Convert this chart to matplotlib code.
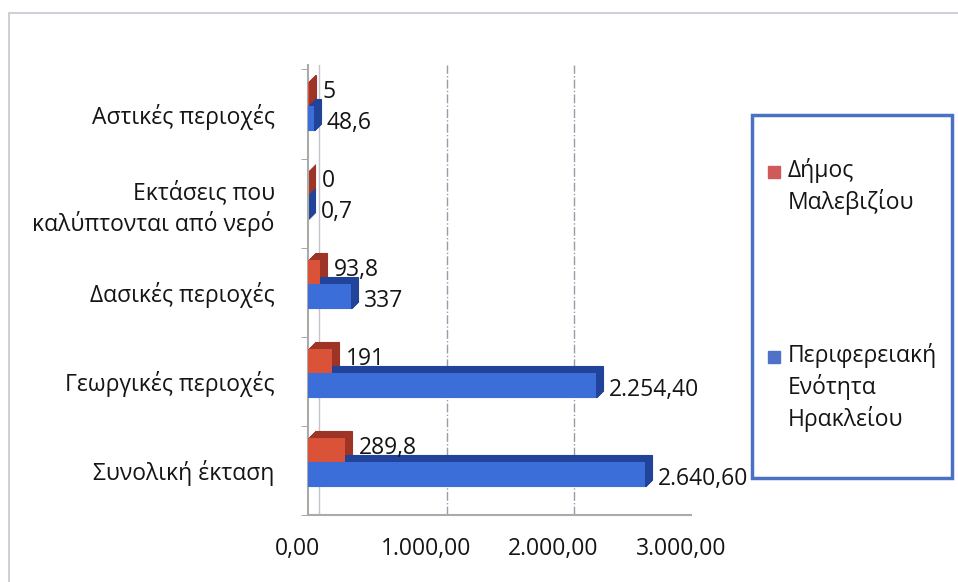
import numpy as np
import matplotlib
matplotlib.use('Agg')
import matplotlib.pyplot as plt
from matplotlib.transforms import ScaledTranslation
from matplotlib.patches import Rectangle

# Κατηγορίες (από κάτω προς τα πάνω)
categories = ['Συνολική έκταση', 'Γεωργικές περιοχές', 'Δασικές περιοχές',
              'Εκτάσεις που\nκαλύπτονται από νερό', 'Αστικές περιοχές']
malevizi = [289.8, 191, 93.8, 0, 5]
heraklion = [2640.6, 2254.4, 337, 0.7, 48.6]
malevizi_labels = ['289,8', '191', '93,8', '0', '5']
heraklion_labels = ['2.640,60', '2.254,40', '337', '0,7', '48,6']
series_names = ['Δήμος\nΜαλεβιζίου', 'Περιφερειακή\nΕνότητα\nΗρακλείου']
xticks = [0, 1000, 2000, 3000]
xtick_labels = ['0,00', '1.000,00', '2.000,00', '3.000,00']

plt.rcParams['font.family'] = ['Open Sans', 'DejaVu Sans']
txt = '#151515'
fs = 16.5

red, red_dark = '#DA5238', '#9E3426'
blue, blue_dark = '#3B6ED8', '#22439A'

fig = plt.figure(figsize=(9.58, 5.82), dpi=100)
ax = fig.add_axes([0.3215, 0.1151, 0.40, 0.7732])

y = np.arange(len(categories))
h = 0.28

# βάθος "3D": εξώθηση προς τα πάνω-δεξιά
for k in range(1, 8):
    depth = ScaledTranslation(k / 100, k / 100, fig.dpi_scale_trans)
    ax.barh(y + 0.22, malevizi, height=h, color=red_dark, edgecolor=red_dark,
            linewidth=0.8, zorder=2, transform=ax.transData + depth)
    ax.barh(y - 0.05, heraklion, height=h, color=blue_dark, edgecolor=blue_dark,
            linewidth=0.8, zorder=2, transform=ax.transData + depth)
ax.barh(y + 0.22, malevizi, height=h, color=red, zorder=3)
ax.barh(y - 0.05, heraklion, height=h, color=blue, zorder=3)

for yi, v, lab in zip(y, malevizi, malevizi_labels):
    ax.annotate(lab, xy=(v, yi + 0.25), xytext=(10, 0), textcoords='offset points',
                va='center', ha='left', fontsize=fs, color=txt, zorder=5)
for yi, v, lab in zip(y, heraklion, heraklion_labels):
    ax.annotate(lab, xy=(v, yi - 0.1), xytext=(9, 0), textcoords='offset points',
                va='center', ha='left', fontsize=fs, color=txt, zorder=5)

ax.set_xlim(0, 3000)
ax.set_ylim(-0.5, 4.55)
ax.set_xticks(xticks)
ax.set_xticklabels(xtick_labels, fontsize=fs, color=txt)
ax.set_yticks(y)
ax.set_yticklabels(categories, fontsize=fs, color=txt, linespacing=1.3)
ax.tick_params(axis='y', length=0, pad=24)
ax.tick_params(axis='x', length=0, pad=16)
ax.set_yticks(np.arange(-0.5, 4.6, 1), minor=True)
ax.tick_params(axis='y', which='minor', length=5, color='#999999')

shift = ScaledTranslation(-10 / 100, 0, fig.dpi_scale_trans)
for t in ax.get_xticklabels():
    t.set_transform(t.get_transform() + shift)

ax.grid(True, axis='x', color='#9a9aa8', linestyle='-.', linewidth=1.0)
back = ScaledTranslation(11 / 100, 0, fig.dpi_scale_trans)
for gl in ax.get_xgridlines():
    gl.set_transform(gl.get_transform() + back)
ax.get_xgridlines()[0].set_linestyle('-')
ax.get_xgridlines()[0].set_color('#c4c4cc')
ax.set_axisbelow(True)
for s in ['top', 'right']:
    ax.spines[s].set_visible(False)
ax.spines['left'].set_color('#aaaaaa')
ax.spines['bottom'].set_color('#aaaaaa')
ax.spines['left'].set_linewidth(1.5)
ax.spines['bottom'].set_linewidth(1.5)

# λεπτό πλαίσιο γραφήματος
fig.patches.append(Rectangle((9 / 958, -0.05), 1.0, 1 - 13 / 582 + 0.05,
                             transform=fig.transFigure, fill=False,
                             edgecolor='#c6c6d0', linewidth=1.2))

# υπόμνημα
fig.patches.append(Rectangle((752 / 958, 1 - 478 / 582), 200 / 958, 363 / 582,
                             transform=fig.transFigure, fill=False,
                             edgecolor='#4A72C4', linewidth=2.5))
leg_y = [1 - 172 / 582, 1 - 357 / 582]
leg_col = ['#D0595A', '#4F72C8']
for ly, name, col in zip(leg_y, series_names, leg_col):
    fig.patches.append(Rectangle((768 / 958, ly - 6 / 582), 12 / 958, 12 / 582,
                                 transform=fig.transFigure, color=col))
    fig.text(788 / 958, ly + 14 / 582, name, fontsize=fs, va='top', ha='left',
             linespacing=1.3, color=txt)

plt.savefig('out.png', dpi=100, facecolor='white')
